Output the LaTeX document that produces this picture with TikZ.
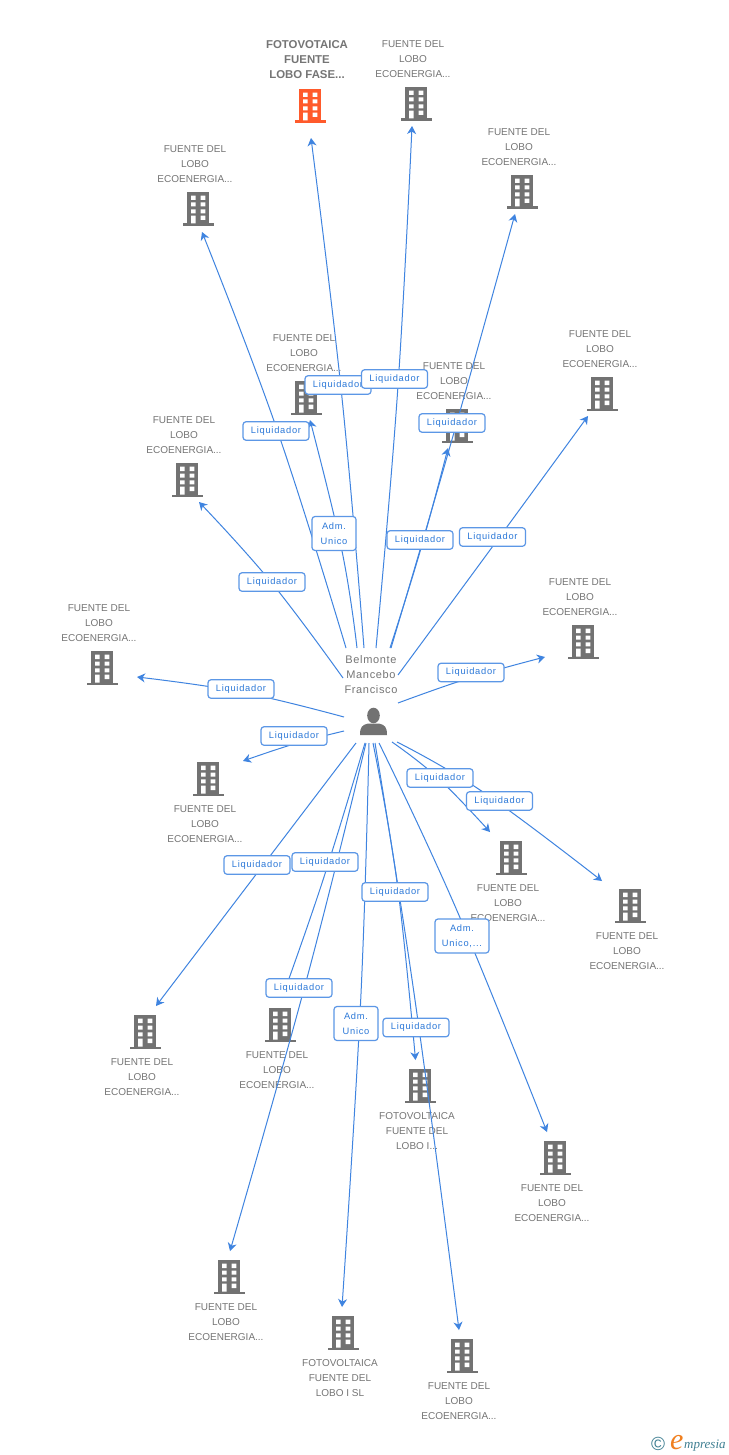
\documentclass[tikz,border=0pt]{standalone}
\usepackage{fontspec}
\setmainfont{Liberation Sans}
\newfontfamily\lblfont[LetterSpace=8]{Liberation Sans}
\newfontfamily\hubfont[LetterSpace=6]{Liberation Sans}
\newfontfamily\logofont{Liberation Serif}
\usetikzlibrary{arrows.meta}
\definecolor{greyicon}{HTML}{727272}
\definecolor{greytext}{HTML}{757575}
\definecolor{orangeicon}{HTML}{FF5A2B}
\definecolor{edgeblue}{HTML}{3F84E0}
\definecolor{lblborder}{HTML}{5C97E6}
\definecolor{lbltext}{HTML}{2B78D8}
\definecolor{logoteal}{HTML}{3F7F92}
\definecolor{logoorange}{HTML}{F08020}
\tikzset{
  edge/.style={draw=edgeblue,line width=1pt,-{Stealth[length=8pt,width=9pt,inset=2.5pt]}},
  lbl/.style={draw=lblborder,line width=1.2pt,rounded corners=3pt,fill=white,text=lbltext,
    font=\lblfont\fontsize{9.3}{15}\selectfont,align=center,inner sep=0pt,
    minimum width=66pt,minimum height=18.5pt},
  lbltall/.style={lbl,minimum width=44pt,minimum height=34pt},
  lblwide/.style={lbl,minimum width=54pt,minimum height=34pt},
  captext/.style={text=greytext,font=\fontsize{10}{15}\selectfont,align=center,inner sep=0pt},
  capbold/.style={text=greytext,font=\bfseries\fontsize{11.4}{15}\selectfont,align=center,inner sep=0pt},
  hubcap/.style={text=greytext,font=\hubfont\fontsize{11}{15}\selectfont,align=center,inner sep=0pt},
  iconbox/.style={inner sep=0pt,minimum width=32pt,minimum height=34pt},
}
% icon drawing: name, x, y, colour
\newcommand{\bldgicon}[4]{%
  \node[iconbox] (#1) at (#2,#3) {};
  \begin{scope}[shift={(#2,#3)}]
    \fill[#4] (-11.3,-16.8) rectangle (11.3,15);
    \fill[#4] (-15.5,14.5) rectangle (15.5,17);
    \fill[white] (-7,-13.3) rectangle (-2.3,-9) (2.7,-13.3) rectangle (7.3,-9)
      (-7,-6.5) rectangle (-2.3,-2.5) (2.7,-6.5) rectangle (7.3,-2.5)
      (-7,0.3) rectangle (-2.3,4.3) (2.7,0.3) rectangle (7.3,4.3)
      (-7,6.7) rectangle (-2.3,14.5) (2.7,6.7) rectangle (7.3,11);
  \end{scope}}
\newcommand{\deflines}{FUENTE DEL\\LOBO\\ECOENERGIA...}
\newcommand{\liq}{\raisebox{-1pt}{Liquidador}}
\begin{document}
\begin{tikzpicture}[x=1pt,y=-1pt]
\useasboundingbox (0,0) rectangle (728,1455);
\fill[white] (0,0) rectangle (728,1455);

% captions
\node[capbold] (c1) at (307,59.5) {FOTOVOTAICA\\FUENTE\\LOBO FASE...};
\node[captext] (c2) at (413,59) {\deflines};
\node[captext] (c3) at (519,147) {\deflines};
\node[captext] (c4) at (195,164) {\deflines};
\node[captext] (c5) at (304,353) {\deflines};
\node[captext] (c6) at (454,381) {\deflines};
\node[captext] (c7) at (600,349) {\deflines};
\node[captext] (c8) at (184,435) {\deflines};
\node[captext] (c9) at (580,597) {\deflines};
\node[captext] (c10) at (99,623) {\deflines};
\node[captext] (c11) at (205,824) {\deflines};
\node[captext] (c12) at (508,903) {\deflines};
\node[captext] (c13) at (627,951) {\deflines};
\node[captext] (c14) at (142,1077) {\deflines};
\node[captext] (c15) at (277,1070) {\deflines};
\node[captext] (c16) at (417,1131) {FOTOVOLTAICA\\FUENTE DEL\\LOBO I...};
\node[captext] (c17) at (552,1203) {\deflines};
\node[captext] (c18) at (226,1322) {\deflines};
\node[captext] (c19) at (340,1378) {FOTOVOLTAICA\\FUENTE DEL\\LOBO I SL};
\node[captext] (c20) at (459,1401) {\deflines};
\node[hubcap] (hubtext) at (371,675) {Belmonte\\Mancebo\\Francisco};

% icons
\bldgicon{b1}{310}{106}{orangeicon}
\bldgicon{b2}{416}{104}{greyicon}
\bldgicon{b3}{522}{192}{greyicon}
\bldgicon{b4}{198}{209}{greyicon}
\bldgicon{b5}{306}{398}{greyicon}
\bldgicon{b6}{457}{426}{greyicon}
\bldgicon{b7}{602}{394}{greyicon}
\bldgicon{b8}{187}{480}{greyicon}
\bldgicon{b9}{583}{642}{greyicon}
\bldgicon{b10}{102}{668}{greyicon}
\bldgicon{b11}{208}{779}{greyicon}
\bldgicon{b12}{511}{858}{greyicon}
\bldgicon{b13}{630}{906}{greyicon}
\bldgicon{b14}{145}{1032}{greyicon}
\bldgicon{b15}{280}{1025}{greyicon}
\bldgicon{b16}{420}{1086}{greyicon}
\bldgicon{b17}{555}{1158}{greyicon}
\bldgicon{b18}{229}{1277}{greyicon}
\bldgicon{b19}{343}{1333}{greyicon}
\bldgicon{b20}{462}{1356}{greyicon}

% person
\node[inner sep=0pt,minimum width=27pt,minimum height=28pt] (hub) at (373.5,722) {};
\fill[greyicon] (373.5,715.5) ellipse (6.3 and 7.8);
\fill[greyicon] (360,735) .. controls (360,727) and (362,725) .. (368,723.5)
  -- (379,723.5) .. controls (385,725) and (387,727) .. (387,735) -- cycle;

% connector ends and through-points
\coordinate (s1) at (364,648);  \coordinate (v1) at (341.7,395);  \coordinate (e1) at (311,138);
\coordinate (s2) at (376,648);  \coordinate (v2) at (397.7,390);  \coordinate (e2) at (412,126);
\coordinate (s3) at (391,648);  \coordinate (v3) at (449,450);    \coordinate (e3) at (515,214);
\coordinate (s4) at (346,648);  \coordinate (v4) at (277.5,431);  \coordinate (e4) at (202,232);
\coordinate (s5) at (357,648);  \coordinate (v5) at (342,551);    \coordinate (e5) at (310,420);
\coordinate (s6) at (390,648);  \coordinate (v6) at (420.5,550);  \coordinate (e6) at (448,448);
\coordinate (s7) at (398,675);  \coordinate (v7) at (491.5,548);  \coordinate (e7) at (588,416);
\coordinate (s8) at (343,678);  \coordinate (v8) at (271,582);    \coordinate (e8) at (199,502);
\coordinate (s9) at (398,703);  \coordinate (v9) at (471,677.5);  \coordinate (e9) at (545,657);
\coordinate (s10) at (344,717); \coordinate (v10) at (241,692);   \coordinate (e10) at (137,677);
\coordinate (s11) at (344,731); \coordinate (v11) at (294,744);   \coordinate (e11) at (243,761);
\coordinate (s12) at (392,742); \coordinate (v12) at (438,778);   \coordinate (e12) at (490,832);
\coordinate (s13) at (397,742); \coordinate (v13) at (483,792);   \coordinate (e13) at (602,881);
\coordinate (s14) at (356,743); \coordinate (v14) at (255.6,875); \coordinate (e14) at (156,1006);
\coordinate (s15) at (365,743); \coordinate (v15) at (323,880);   \coordinate (e15) at (282,998);
\coordinate (s16) at (373,743); \coordinate (v16) at (397,882);   \coordinate (e16) at (415.5,1060);
\coordinate (s17) at (379,743); \coordinate (v17) at (456.7,910); \coordinate (e17) at (547,1132);
\coordinate (s18) at (366,743); \coordinate (v18) at (307,978);   \coordinate (e18) at (230,1251);
\coordinate (s19) at (369,743); \coordinate (v19) at (360.7,1000);\coordinate (e19) at (342,1307);
\coordinate (s20) at (375,743); \coordinate (v20) at (415,1000);  \coordinate (e20) at (459,1330);

% connectors
\foreach \i in {1,...,20} {\draw[edge] plot[smooth,tension=0.7] coordinates {(s\i) (v\i) (e\i)};}

% labels
\node[lbl] (l1) at (338,385) {\liq};
\node[lbl] (l2) at (394.5,379) {\liq};
\node[lbl] (l3) at (452,423) {\liq};
\node[lbl] (l4) at (276,431) {\liq};
\node[lbltall] (l5) at (334,533.5) {Adm.\\Unico};
\node[lbl] (l6) at (420,540) {\liq};
\node[lbl] (l7) at (492.5,537) {\liq};
\node[lbl] (l8) at (272,582) {\liq};
\node[lbl] (l9) at (471,672.5) {\liq};
\node[lbl] (l10) at (241,689) {\liq};
\node[lbl] (l11) at (294,736) {\liq};
\node[lbl] (l12) at (440,778) {\liq};
\node[lbl] (l13) at (499.5,801) {\liq};
\node[lbl] (l14) at (257,865) {\liq};
\node[lbl] (l15) at (325,862) {\liq};
\node[lbl] (l16) at (395,892) {\liq};
\node[lblwide] (l17) at (462,936) {Adm.\\Unico,...};
\node[lbl] (l18) at (299,988) {\liq};
\node[lbltall] (l19) at (356,1023.5) {Adm.\\Unico};
\node[lbl] (l20) at (416,1027.5) {\liq};

% logo
\node[inner sep=0pt,text=logoteal,font=\fontsize{19}{19}\selectfont] (logoc) at (658,1443.5) {©};
\node[inner sep=0pt,text=logoorange,anchor=base west,font=\logofont\itshape\fontsize{30}{30}\selectfont] (logoe) at (670,1449) {e};
\node[inner sep=0pt,text=logoteal,anchor=base west,font=\logofont\itshape\fontsize{13}{13}\selectfont] (logot) at (684,1448) {mpresia};
\end{tikzpicture}
\end{document}
